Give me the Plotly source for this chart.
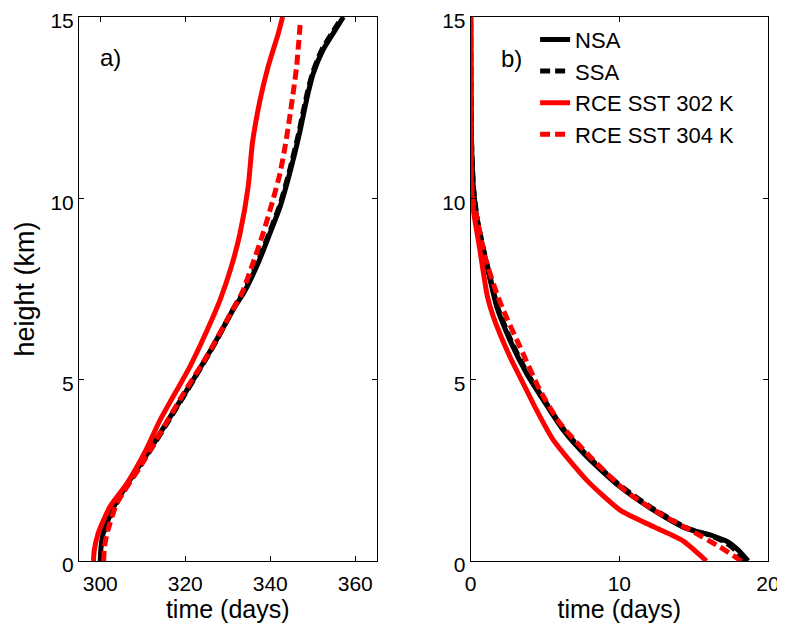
import plotly.graph_objects as go
from plotly.subplots import make_subplots

# ---------------- data: panel a) ----------------
nsa_a_h = [0.0, 0.4, 0.76, 1.5, 2.2, 3.0, 4.0, 5.0, 6.0, 7.0, 7.4, 8.2, 9.0, 9.8, 10.7, 11.8, 12.25, 12.9, 13.44, 14.09, 14.55, 15.0]
nsa_a_t = [300.0, 300.2, 300.7, 303.2, 306.8, 311.3, 316.6, 321.9, 326.9, 331.6, 333.8, 337.1, 339.8, 342.4, 344.6, 346.9, 347.7, 348.9, 350.1, 352.4, 354.8, 357.2]

ssa_a_h = [0.0, 0.4, 0.76, 1.5, 2.2, 3.0, 4.0, 5.0, 6.0, 7.0, 7.4, 8.2, 9.0, 9.8, 10.7, 11.8, 12.25, 12.9, 13.44, 14.09, 14.55, 15.0]
ssa_a_t = [300.1, 300.3, 300.9, 303.4, 307.0, 311.5, 316.8, 322.0, 327.0, 331.5, 333.6, 336.9, 339.6, 342.2, 344.4, 346.7, 347.5, 348.7, 349.9, 352.1, 354.5, 356.9]

rce302_a_h = [0.0, 0.3, 0.76, 1.5, 2.14, 3.0, 3.89, 5.36, 6.3, 7.2, 8.1, 9.04, 10.32, 11.52, 12.71, 13.63, 14.55, 15.0]
rce302_a_t = [298.4, 298.6, 299.5, 302.3, 306.3, 310.5, 314.1, 321.1, 324.9, 328.2, 330.8, 332.9, 334.8, 335.8, 337.6, 339.5, 341.9, 342.9]

rce304_a_h = [0.0, 0.4, 0.76, 1.59, 2.6, 3.52, 4.62, 5.63, 6.87, 7.38, 8.2, 9.03, 9.9, 10.69, 11.5, 12.25, 13.0, 13.63, 14.3, 14.9]
rce304_a_t = [300.8, 301.0, 301.6, 303.9, 309.4, 314.1, 319.6, 325.0, 330.9, 333.3, 335.9, 338.3, 340.5, 342.3, 343.6, 344.6, 345.5, 346.2, 346.7, 347.1]

# ---------------- data: panel b) ----------------
nsa_b_h = [0.0, 0.3, 0.53, 0.6, 0.72, 0.9, 1.41, 2.05, 2.88, 3.61, 4.44, 5.17, 6.09, 7.01, 7.38, 8.57, 9.49, 10.3, 11.5, 13.0, 15.0]
nsa_b_t = [18.66, 18.0, 17.3, 16.9, 16.1, 14.5, 12.27, 10.03, 7.8, 6.22, 4.88, 3.76, 2.64, 1.75, 1.52, 0.85, 0.4, 0.18, 0.06, 0.02, 0.0]

ssa_b_h = [0.0, 0.3, 0.53, 0.6, 0.72, 0.9, 1.41, 2.05, 2.88, 3.61, 4.44, 5.17, 6.09, 7.01, 7.38, 8.57, 9.49, 10.3, 11.5, 13.0, 15.0]
ssa_b_t = [18.45, 17.8, 17.1, 16.7, 16.0, 14.6, 12.4, 10.15, 7.9, 6.3, 4.95, 3.82, 2.7, 1.8, 1.57, 0.88, 0.42, 0.19, 0.06, 0.02, 0.0]

rce302_b_h = [0.0, 0.55, 0.95, 1.41, 2.23, 3.34, 4.16, 4.71, 5.63, 6.74, 7.3, 8.57, 9.67, 10.3, 12.0, 15.0]
rce302_b_t = [15.86, 14.3, 12.27, 10.03, 7.8, 5.55, 4.43, 3.76, 2.64, 1.52, 1.12, 0.62, 0.18, 0.05, 0.01, 0.0]

rce304_b_h = [0.0, 0.39, 0.81, 1.31, 1.91, 2.88, 3.8, 4.71, 5.91, 6.92, 7.38, 8.39, 9.49, 9.9, 10.5, 12.0, 15.0]
rce304_b_t = [18.21, 16.75, 14.96, 12.72, 10.48, 8.02, 6.0, 4.66, 3.31, 2.19, 1.75, 0.96, 0.4, 0.18, 0.06, 0.01, 0.0]

series_names = ["NSA", "SSA", "RCE SST 302 K", "RCE SST 304 K"]
x_ticks_a = [300, 320, 340, 360]
x_ticks_b = [0, 10, 20]
y_ticks = [0, 5, 10, 15]

FONT = "Liberation Sans, Arial, sans-serif"
LW = 5
styles = [
    dict(color="black", width=LW, dash="solid", shape="spline", smoothing=0.6),
    dict(color="black", width=LW, dash="10px,5px", shape="spline", smoothing=0.6),
    dict(color="#ff0000", width=LW, dash="solid", shape="spline", smoothing=0.6),
    dict(color="#ff0000", width=LW, dash="10px,5px", shape="spline", smoothing=0.6),
]

fig = make_subplots(rows=1, cols=2, horizontal_spacing=0.1367)

panel_a = [(nsa_a_t, nsa_a_h), (ssa_a_t, ssa_a_h), (rce302_a_t, rce302_a_h), (rce304_a_t, rce304_a_h)]
panel_b = [(nsa_b_t, nsa_b_h), (ssa_b_t, ssa_b_h), (rce302_b_t, rce302_b_h), (rce304_b_t, rce304_b_h)]

for i, (x, y) in enumerate(panel_a):
    fig.add_trace(go.Scatter(x=x, y=y, mode="lines", line=styles[i], name=series_names[i],
                             showlegend=False, cliponaxis=True), row=1, col=1)
for i, (x, y) in enumerate(panel_b):
    fig.add_trace(go.Scatter(x=x, y=y, mode="lines", line=styles[i], name=series_names[i],
                             showlegend=True, cliponaxis=True), row=1, col=2)

axis_common = dict(showline=True, linecolor="black", linewidth=1, mirror="ticks",
                   ticks="inside", ticklen=5, tickwidth=1, tickcolor="black",
                   showgrid=False, zeroline=False, automargin=True,
                   ticklabeloverflow="allow",
                   tickfont=dict(family=FONT, size=21, color="black"))

fig.update_xaxes(axis_common)
fig.update_yaxes(axis_common)
fig.update_xaxes(ticklabelstandoff=4)
fig.update_yaxes(ticklabelshift=4)

title_font = dict(family=FONT, size=25, color="black")
# page has an 8px body margin: figure is 777x617 and margins compensate
fig.update_layout(
    xaxis=dict(domain=[0, 0.4318], range=[295, 365], tickvals=x_ticks_a,
               title=dict(text="time (days)", font=title_font, standoff=0)),
    xaxis2=dict(domain=[0.5685, 1], range=[0, 20], tickvals=x_ticks_b,
                title=dict(text="time (days)", font=title_font, standoff=0)),
    yaxis=dict(range=[0, 15], tickvals=y_ticks,
               title=dict(text="height (km)", font=dict(family=FONT, size=27, color="black"), standoff=7)),
    yaxis2=dict(range=[0, 15], tickvals=y_ticks),
    width=777, height=617,
    margin=dict(l=71.3, r=16.7, t=9, b=64, autoexpand=False),
    plot_bgcolor="white", paper_bgcolor="white",
    font=dict(family=FONT, color="black"),
    legend=dict(x=0.662, y=0.997, xanchor="left", yanchor="top",
                bgcolor="rgba(0,0,0,0)", borderwidth=0,
                font=dict(family=FONT, size=22, color="black"),
                itemwidth=30, tracegroupgap=0),
    annotations=[
        dict(text="a)", xref="x domain", yref="y domain", x=0.107, y=0.925,
             xanchor="center", yanchor="middle",
             showarrow=False, font=dict(family=FONT, size=24, color="black")),
        dict(text="b)", xref="x2 domain", yref="y2 domain", x=0.137, y=0.923,
             xanchor="center", yanchor="middle",
             showarrow=False, font=dict(family=FONT, size=24, color="black")),
    ],
)

fig.write_html("out.html")
